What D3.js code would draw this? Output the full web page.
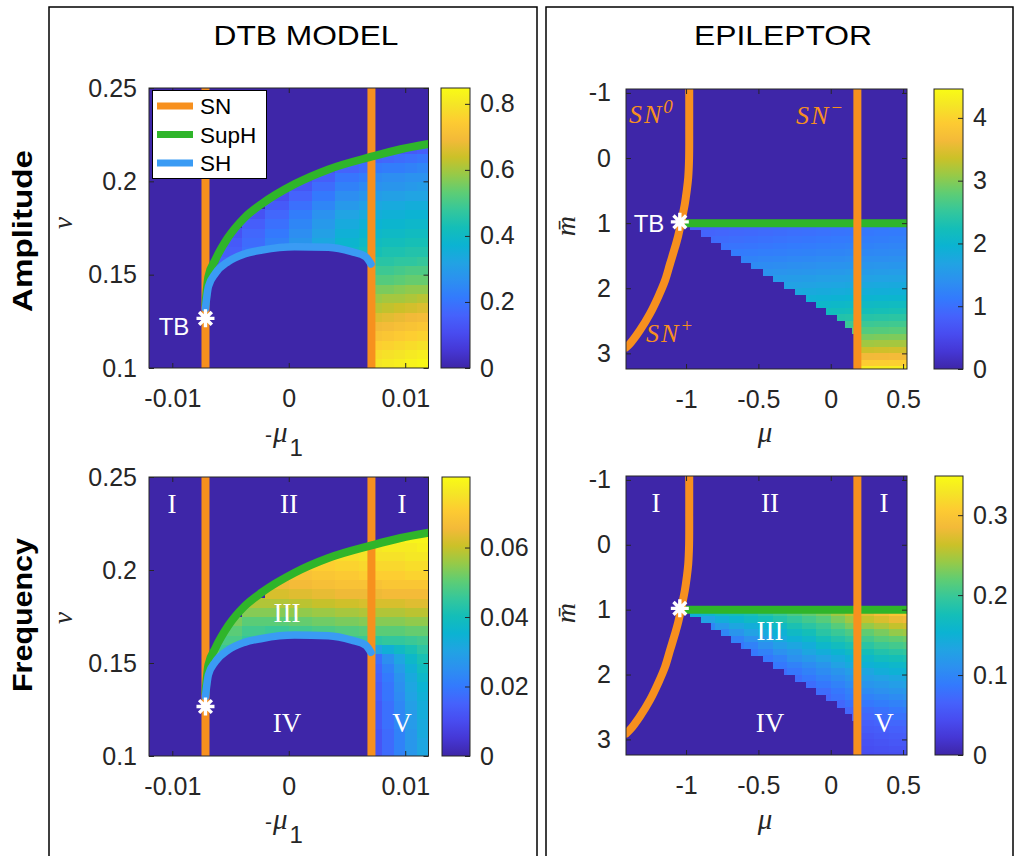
<!DOCTYPE html>
<html><head><meta charset="utf-8">
<script src="https://cdn.jsdelivr.net/npm/d3@7"></script>
<style>body{margin:0;background:#fff}svg{display:block}</style>
</head><body>
<svg id="fig" width="1019" height="856"></svg>
<script>
// ---------------- DATA ----------------
// DTB model axes
const dtbXDomain = [-0.012, 0.012];
const dtbYDomain = [0.1, 0.25];
const dtbXTicks = [-0.01, 0, 0.01];
const dtbXTickLabels = ["-0.01", "0", "0.01"];
const dtbYTicks = [0.1, 0.15, 0.2, 0.25];
const dtbYTickLabels = ["0.1", "0.15", "0.2", "0.25"];
// bifurcation curves (DTB)
const dtbSN = [-0.00715, 0.0071];
const dtbSupH = [[-0.00715,0.134],[-0.0069,0.149],[-0.0063,0.158],[-0.0052,0.170],[-0.0038,0.1805],[-0.0023,0.188],[0.0005,0.1985],[0.0034,0.2064],[0.0071,0.2132],[0.0096,0.2172],[0.0120,0.2200]];
const dtbSH = [[-0.00715,0.132],[-0.0069,0.1436],[-0.0063,0.1507],[-0.0052,0.1570],[-0.0038,0.1611],[-0.0023,0.1632],[0.0005,0.1650],[0.0034,0.1647],[0.0054,0.1623],[0.0066,0.1596],[0.00706,0.1557]];
const dtbTB = [-0.00715, 0.1266];
// DTB heat-map grid (column edges in -mu1, row edges in nu)
const dtbColEdges = [-0.008,-0.006,-0.004,-0.002,0,0.002,0.004,0.006,0.007,0.008,0.009,0.010,0.011,0.012];
const dtbRowEdges = [0.100,0.105,0.110,0.115,0.120,0.125,0.130,0.135,0.140,0.145,0.150,0.155,0.160,0.165,0.170,0.175,0.180,0.185,0.190,0.195,0.200,0.205,0.210,0.215,0.220,0.225];
const dtbAmplitude = [
[0,0,0,0,0,0,0,0,0.80,0.81,0.82,0.83,0.84],
[0,0,0,0,0,0,0,0,0.78,0.79,0.80,0.81,0.82],
[0,0,0,0,0,0,0,0,0.75,0.76,0.77,0.78,0.79],
[0,0,0,0,0,0,0,0,0.72,0.73,0.74,0.75,0.76],
[0,0,0,0,0,0,0,0,0.69,0.70,0.71,0.72,0.73],
[0,0,0,0,0,0,0,0,0.66,0.67,0.68,0.69,0.70],
[0,0,0,0,0,0,0,0,0.62,0.63,0.64,0.65,0.66],
[0.13,0,0,0,0,0,0,0,0.59,0.60,0.60,0.61,0.62],
[0.14,0,0,0,0,0,0,0,0.56,0.56,0.57,0.58,0.58],
[0.15,0.17,0,0,0,0,0,0,0.52,0.52,0.53,0.54,0.54],
[0.14,0.17,0,0,0,0,0,0,0.49,0.49,0.50,0.51,0.51],
[0.13,0.16,0.20,0,0,0,0.38,0.44,0.46,0.46,0.47,0.47,0.48],
[0,0.15,0.19,0.24,0.30,0.35,0.40,0.42,0.43,0.44,0.44,0.45,0.45],
[0,0.14,0.18,0.23,0.28,0.33,0.38,0.40,0.41,0.42,0.42,0.43,0.43],
[0,0.12,0.17,0.21,0.26,0.31,0.36,0.38,0.39,0.40,0.40,0.41,0.41],
[0,0,0.15,0.19,0.24,0.29,0.34,0.36,0.37,0.38,0.38,0.39,0.39],
[0,0,0.12,0.17,0.22,0.27,0.32,0.34,0.35,0.36,0.36,0.37,0.37],
[0,0,0,0.14,0.19,0.24,0.29,0.31,0.33,0.34,0.34,0.35,0.35],
[0,0,0,0.11,0.16,0.21,0.26,0.28,0.30,0.31,0.31,0.32,0.32],
[0,0,0,0.10,0.13,0.18,0.23,0.25,0.27,0.28,0.28,0.29,0.30],
[0,0,0,0,0.11,0.15,0.20,0.22,0.25,0.26,0.26,0.27,0.27],
[0,0,0,0,0,0.12,0.16,0.18,0.21,0.22,0.22,0.23,0.24],
[0,0,0,0,0,0,0.13,0.14,0.16,0.17,0.18,0.19,0.20],
[0,0,0,0,0,0,0,0,0,0.12,0.13,0.14,0.15],
[0,0,0,0,0,0,0,0,0,0,0,0,0]];
const dtbFrequency = [
[0,0,0,0,0,0,0,0,0.012,0.017,0.022,0.027,0.031],
[0,0,0,0,0,0,0,0,0.012,0.017,0.022,0.027,0.031],
[0,0,0,0,0,0,0,0,0.012,0.017,0.022,0.027,0.032],
[0,0,0,0,0,0,0,0,0.013,0.018,0.023,0.028,0.032],
[0,0,0,0,0,0,0,0,0.013,0.018,0.023,0.028,0.033],
[0,0,0,0,0,0,0,0,0.013,0.018,0.023,0.029,0.033],
[0,0,0,0,0,0,0,0,0.014,0.019,0.024,0.030,0.034],
[0.046,0,0,0,0,0,0,0,0.014,0.019,0.025,0.031,0.035],
[0.047,0,0,0,0,0,0,0,0.015,0.020,0.026,0.032,0.037],
[0.048,0.044,0,0,0,0,0,0,0.016,0.022,0.028,0.034,0.039],
[0.050,0.045,0,0,0,0,0,0,0.018,0.025,0.031,0.037,0.041],
[0.052,0.046,0.043,0,0,0,0.044,0.044,0.030,0.034,0.038,0.041,0.044],
[0,0.048,0.045,0.044,0.044,0.045,0.046,0.046,0.044,0.045,0.045,0.046,0.047],
[0,0.050,0.047,0.046,0.047,0.048,0.049,0.050,0.050,0.050,0.050,0.051,0.051],
[0,0.053,0.050,0.050,0.051,0.052,0.053,0.054,0.054,0.054,0.054,0.055,0.055],
[0,0,0.054,0.054,0.055,0.056,0.057,0.058,0.058,0.058,0.058,0.059,0.059],
[0,0,0.058,0.058,0.059,0.060,0.061,0.062,0.062,0.062,0.062,0.063,0.063],
[0,0,0,0.062,0.063,0.064,0.065,0.065,0.065,0.066,0.066,0.066,0.066],
[0,0,0,0.065,0.066,0.067,0.068,0.068,0.068,0.069,0.069,0.069,0.069],
[0,0,0,0.067,0.068,0.069,0.070,0.071,0.071,0.071,0.071,0.072,0.072],
[0,0,0,0,0.070,0.071,0.072,0.073,0.073,0.073,0.073,0.074,0.074],
[0,0,0,0,0,0.073,0.074,0.075,0.075,0.075,0.075,0.076,0.076],
[0,0,0,0,0,0,0.075,0.076,0.076,0.077,0.077,0.077,0.078],
[0,0,0,0,0,0,0,0,0,0.078,0.078,0.079,0.079],
[0,0,0,0,0,0,0,0,0,0,0,0,0]];

// Epileptor axes
const epiXDomain = [-1.415, 0.527];
const epiYDomain = [-1.06, 3.24];
const epiXTicks = [-1, -0.5, 0, 0.5];
const epiXTickLabels = ["-1", "-0.5", "0", "0.5"];
const epiYTicks = [-1, 0, 1, 2, 3];
const epiYTickLabels = ["-1", "0", "1", "2", "3"];
// bifurcation curves (Epileptor)
const epiSN0 = [[-0.978,-1.06],[-0.978,-0.5],[-0.979,0.0],[-0.985,0.3],[-0.995,0.5],[-1.008,0.7],[-1.021,0.85],[-1.035,1.0],[-1.055,1.2],[-1.076,1.37],[-1.11,1.62],[-1.145,1.88],[-1.19,2.12],[-1.249,2.39],[-1.32,2.65],[-1.387,2.85],[-1.415,2.91]];
const epiSNminus = 0.184;
const epiSupH = [[-1.035,1.0],[0.527,1.0]];
const epiTB = [-1.043, 0.98];
// Epileptor heat-map grid
const epiColEdges = [-1.0,-0.9,-0.8,-0.7,-0.6,-0.5,-0.4,-0.3,-0.2,-0.1,0.0,0.1,0.2,0.3,0.4,0.5,0.53];
const epiRowEdges = [1.0,1.1,1.2,1.3,1.4,1.5,1.6,1.7,1.8,1.9,2.0,2.1,2.2,2.3,2.4,2.5,2.6,2.7,2.8,2.9,3.0,3.1,3.2,3.25];
const epiBoundary = [-0.97,-0.90,-0.83,-0.76,-0.69,-0.62,-0.55,-0.47,-0.40,-0.32,-0.25,-0.17,-0.10,-0.03,0.04,0.10,0.15,0.18,0.18,0.18,0.18,0.18,0.18];
const epiAmplitude = [
[0.80,0.82,0.84,0.86,0.88,0.90,0.92,0.94,0.96,0.98,1.00,1.02,1.05,1.07,1.09,1.10],
[0,0.86,0.88,0.90,0.92,0.94,0.96,0.98,1.00,1.02,1.04,1.06,1.09,1.11,1.13,1.15],
[0,0.93,0.95,0.97,0.99,1.01,1.03,1.05,1.07,1.09,1.11,1.13,1.15,1.17,1.19,1.20],
[0,0,1.02,1.04,1.06,1.08,1.10,1.12,1.14,1.16,1.18,1.20,1.22,1.24,1.25,1.26],
[0,0,0,1.12,1.14,1.16,1.18,1.20,1.22,1.24,1.26,1.28,1.30,1.31,1.32,1.33],
[0,0,0,1.21,1.23,1.25,1.27,1.29,1.31,1.33,1.35,1.37,1.38,1.39,1.40,1.41],
[0,0,0,0,1.32,1.34,1.36,1.38,1.40,1.42,1.44,1.46,1.47,1.48,1.49,1.50],
[0,0,0,0,0,1.43,1.45,1.47,1.49,1.51,1.53,1.55,1.56,1.57,1.58,1.59],
[0,0,0,0,0,0,1.55,1.57,1.59,1.61,1.63,1.65,1.66,1.67,1.68,1.69],
[0,0,0,0,0,0,1.64,1.66,1.68,1.70,1.72,1.74,1.76,1.77,1.78,1.79],
[0,0,0,0,0,0,0,1.76,1.78,1.80,1.82,1.84,1.86,1.87,1.88,1.89],
[0,0,0,0,0,0,0,0,1.90,1.92,1.94,1.96,1.98,1.99,2.00,2.01],
[0,0,0,0,0,0,0,0,0,2.05,2.07,2.09,2.11,2.13,2.14,2.15],
[0,0,0,0,0,0,0,0,0,2.18,2.20,2.22,2.24,2.26,2.28,2.30],
[0,0,0,0,0,0,0,0,0,0,2.36,2.38,2.40,2.42,2.44,2.45],
[0,0,0,0,0,0,0,0,0,0,0,2.54,2.56,2.58,2.60,2.61],
[0,0,0,0,0,0,0,0,0,0,0,2.70,2.72,2.74,2.76,2.77],
[0,0,0,0,0,0,0,0,0,0,0,2.92,2.93,2.95,2.96,2.97],
[0,0,0,0,0,0,0,0,0,0,0,3.12,3.13,3.15,3.16,3.17],
[0,0,0,0,0,0,0,0,0,0,0,3.36,3.37,3.39,3.40,3.41],
[0,0,0,0,0,0,0,0,0,0,0,3.62,3.63,3.65,3.66,3.67],
[0,0,0,0,0,0,0,0,0,0,0,3.92,3.93,3.95,3.96,3.97],
[0,0,0,0,0,0,0,0,0,0,0,4.26,4.28,4.30,4.31,4.32]];
const epiFrequency = [
[0.150,0.160,0.170,0.175,0.180,0.190,0.200,0.210,0.220,0.230,0.245,0.260,0.275,0.290,0.300,0.305],
[0,0.130,0.145,0.155,0.165,0.175,0.185,0.195,0.205,0.215,0.230,0.245,0.260,0.270,0.280,0.285],
[0,0.100,0.120,0.135,0.145,0.155,0.165,0.180,0.190,0.200,0.215,0.230,0.240,0.250,0.260,0.265],
[0,0,0.100,0.115,0.130,0.140,0.150,0.165,0.175,0.190,0.200,0.210,0.220,0.230,0.240,0.245],
[0,0,0,0.095,0.110,0.125,0.140,0.150,0.160,0.175,0.185,0.195,0.205,0.215,0.220,0.225],
[0,0,0,0.085,0.095,0.110,0.125,0.135,0.145,0.160,0.170,0.180,0.190,0.200,0.205,0.210],
[0,0,0,0,0.085,0.095,0.110,0.120,0.135,0.145,0.155,0.165,0.175,0.185,0.190,0.195],
[0,0,0,0,0,0.085,0.095,0.110,0.120,0.130,0.140,0.150,0.160,0.170,0.175,0.180],
[0,0,0,0,0,0,0.085,0.095,0.105,0.115,0.130,0.140,0.150,0.155,0.160,0.165],
[0,0,0,0,0,0,0.075,0.085,0.095,0.105,0.115,0.125,0.135,0.145,0.150,0.155],
[0,0,0,0,0,0,0,0.075,0.085,0.095,0.105,0.115,0.125,0.130,0.135,0.140],
[0,0,0,0,0,0,0,0,0.075,0.085,0.095,0.105,0.115,0.120,0.125,0.130],
[0,0,0,0,0,0,0,0,0,0.075,0.085,0.095,0.105,0.110,0.115,0.120],
[0,0,0,0,0,0,0,0,0,0.070,0.080,0.090,0.095,0.100,0.105,0.110],
[0,0,0,0,0,0,0,0,0,0,0.070,0.080,0.085,0.090,0.095,0.100],
[0,0,0,0,0,0,0,0,0,0,0,0.070,0.075,0.080,0.085,0.090],
[0,0,0,0,0,0,0,0,0,0,0,0.065,0.070,0.075,0.080,0.080],
[0,0,0,0,0,0,0,0,0,0,0,0.060,0.062,0.066,0.070,0.072],
[0,0,0,0,0,0,0,0,0,0,0,0.055,0.058,0.060,0.063,0.065],
[0,0,0,0,0,0,0,0,0,0,0,0.050,0.053,0.056,0.058,0.060],
[0,0,0,0,0,0,0,0,0,0,0,0.046,0.049,0.052,0.054,0.055],
[0,0,0,0,0,0,0,0,0,0,0,0.043,0.046,0.048,0.050,0.051],
[0,0,0,0,0,0,0,0,0,0,0,0.040,0.043,0.045,0.047,0.048]];

// colour bars
const dtbAmpCbarMax = 0.848, dtbAmpCbarTicks = [0,0.2,0.4,0.6,0.8], dtbAmpCbarLabels = ["0","0.2","0.4","0.6","0.8"];
const dtbFreqCbarMax = 0.0803, dtbFreqCbarTicks = [0,0.02,0.04,0.06], dtbFreqCbarLabels = ["0","0.02","0.04","0.06"];
const epiAmpCbarMax = 4.46, epiAmpCbarTicks = [0,1,2,3,4], epiAmpCbarLabels = ["0","1","2","3","4"];
const epiFreqCbarMax = 0.349, epiFreqCbarTicks = [0,0.1,0.2,0.3], epiFreqCbarLabels = ["0","0.1","0.2","0.3"];

const legendItems = ["SN", "SupH", "SH"];
const regionLabels = ["I", "II", "I", "III", "IV", "V"];

// ---------------- STYLE / COLORMAP ----------------
const parulaStops = [
[0/255,0.2422,0.1504,0.6603],[16/255,0.2704,0.2138,0.8346],[32/255,0.2813,0.2985,0.9397],[48/255,0.2710,0.3860,0.9898],
[64/255,0.2006,0.4803,0.9906],[80/255,0.1716,0.5655,0.9393],[96/255,0.1288,0.6408,0.8910],[112/255,0.0433,0.7039,0.8242],
[128/255,0.0770,0.7468,0.7224],[144/255,0.2061,0.7808,0.6065],[160/255,0.3671,0.8021,0.4563],[176/255,0.5886,0.7913,0.2833],
[192/255,0.7945,0.7554,0.1570],[208/255,0.9523,0.7284,0.2237],[224/255,0.9938,0.7974,0.1974],[240/255,0.9601,0.8963,0.1507],
[255/255,0.9769,0.9839,0.0805]];
const ORANGE = "#F7901E", GREEN = "#2FB52A", BLUE = "#3A9BF4";
const sans = "'Liberation Sans', Arial, Helvetica, sans-serif";
const serif = "'Liberation Serif', 'Times New Roman', serif";
const AX = "#262626";

const svg = d3.select("#fig");
const defs = svg.append("defs");
const pRgb = s => d3.rgb(s[1]*255, s[2]*255, s[3]*255);
function makeColor(max){
  return d3.scaleLinear().domain(parulaStops.map(s => s[0]*max)).range(parulaStops.map(pRgb)).interpolate(d3.interpolateRgb).clamp(true);
}
const grad = defs.append("linearGradient").attr("id","parulaGrad").attr("x1",0).attr("y1",1).attr("x2",0).attr("y2",0);
parulaStops.forEach(s => grad.append("stop").attr("offset", s[0]).attr("stop-color", pRgb(s)));

// frames
svg.append("rect").attr("x",49).attr("y",7).attr("width",488).attr("height",900).attr("fill","none").attr("stroke","#000").attr("stroke-width",1.5);
svg.append("rect").attr("x",546).attr("y",7).attr("width",467).attr("height",900).attr("fill","none").attr("stroke","#000").attr("stroke-width",1.5);

let uid = 0;
function styleAxis(s, fs){
  s.select(".domain").remove();
  s.selectAll("line").attr("stroke", AX).attr("stroke-width", 1);
  s.selectAll("text").attr("font-size", fs).attr("font-family", sans).attr("fill", AX);
  s.attr("font-size", null).attr("font-family", null);
}
function starPath(r){
  const a = r*0.7071;
  return `M0,${-r}L0,${r}M${-r},0L${r},0M${-a},${-a}L${a},${a}M${-a},${a}L${a},${-a}`;
}

function drawPanel(L, P){
  const x = d3.scaleLinear().domain(P.xDomain).range([L.x0, L.x1]);
  const y = d3.scaleLinear().domain(P.yDomain).range(P.yReversed ? [L.y0, L.y1] : [L.y1, L.y0]);
  const color = makeColor(P.cmax);
  const id = "ax" + (uid++);
  defs.append("clipPath").attr("id", id).append("rect").attr("x",L.x0).attr("y",L.y0).attr("width",L.x1-L.x0).attr("height",L.y1-L.y0);
  const plot = svg.append("g").attr("clip-path", `url(#${id})`);
  plot.append("rect").attr("x",L.x0).attr("y",L.y0).attr("width",L.x1-L.x0).attr("height",L.y1-L.y0).attr("fill", color(0));
  const line = d3.line().x(d => x(d[0])).y(d => y(d[1]));

  if (P.model === "dtb") {
    const rid = "rg" + (uid++);
    const poly = [...dtbSupH, [dtbSupH[dtbSupH.length-1][0], dtbYDomain[0]], [dtbSN[1], dtbYDomain[0]], ...dtbSH.slice().reverse()];
    defs.append("clipPath").attr("id", rid).append("path").attr("d", line(poly) + "Z");
    const cells = [];
    P.field.forEach((row,i) => row.forEach((v,j) => { if (v > 0) cells.push({c0:dtbColEdges[j], c1:dtbColEdges[j+1], r0:dtbRowEdges[i], r1:dtbRowEdges[i+1], v}); }));
    plot.append("g").attr("clip-path", `url(#${rid})`).selectAll("rect").data(cells).join("rect")
      .attr("x", d => x(d.c0)).attr("width", d => x(d.c1) - x(d.c0) + 0.6)
      .attr("y", d => y(d.r1)).attr("height", d => y(d.r0) - y(d.r1) + 0.6)
      .attr("fill", d => color(d.v)).attr("shape-rendering","crispEdges");
    dtbSN.forEach(s => plot.append("path").attr("d", line([[s, dtbYDomain[0]], [s, dtbYDomain[1]]])).attr("stroke", ORANGE).attr("stroke-width", 8).attr("fill","none"));
    plot.append("path").attr("d", line.curve(d3.curveMonotoneX)(dtbSupH)).attr("stroke", GREEN).attr("stroke-width", 8).attr("fill","none").attr("stroke-linecap","round");
    plot.append("path").attr("d", line.curve(d3.curveMonotoneX)(dtbSH)).attr("stroke", BLUE).attr("stroke-width", 7.5).attr("fill","none").attr("stroke-linecap","round");
    line.curve(d3.curveLinear);
    plot.append("path").attr("transform", `translate(${x(dtbTB[0])},${y(dtbTB[1])})`).attr("d", starPath(9)).attr("stroke","#fff").attr("stroke-width",3.4).attr("fill","none");
  } else {
    const cells = [];
    P.field.forEach((row,i) => row.forEach((v,j) => {
      if (v <= 0) return;
      const c0 = Math.max(epiColEdges[j], epiBoundary[i]), c1 = epiColEdges[j+1];
      if (c1 <= c0) return;
      cells.push({c0, c1, r0:epiRowEdges[i], r1:epiRowEdges[i+1], v});
    }));
    plot.append("g").selectAll("rect").data(cells).join("rect")
      .attr("x", d => x(d.c0)).attr("width", d => x(d.c1) - x(d.c0) + 0.6)
      .attr("y", d => y(d.r0)).attr("height", d => y(d.r1) - y(d.r0) + 0.6)
      .attr("fill", d => color(d.v)).attr("shape-rendering","crispEdges");
    plot.append("path").attr("d", line(epiSupH)).attr("stroke", GREEN).attr("stroke-width", 8).attr("fill","none");
    plot.append("path").attr("d", line.curve(d3.curveCatmullRom)(epiSN0)).attr("stroke", ORANGE).attr("stroke-width", 8).attr("fill","none").attr("stroke-linecap","round");
    line.curve(d3.curveLinear);
    plot.append("path").attr("d", line([[epiSNminus, epiYDomain[0]], [epiSNminus, epiYDomain[1]]])).attr("stroke", ORANGE).attr("stroke-width", 8).attr("fill","none");
    plot.append("path").attr("transform", `translate(${x(epiTB[0])},${y(epiTB[1])})`).attr("d", starPath(9)).attr("stroke","#fff").attr("stroke-width",3.4).attr("fill","none");
  }

  // axes (ticks inside, mirrored)
  const fs = 25;
  svg.append("g").attr("transform", `translate(0,${L.y1})`)
    .call(d3.axisBottom(x).tickValues(P.xTicks).tickFormat((d,i) => P.xLabels[i]).tickSize(-5).tickPadding(21))
    .call(s => styleAxis(s, fs));
  svg.append("g").attr("transform", `translate(0,${L.y0})`)
    .call(d3.axisTop(x).tickValues(P.xTicks).tickFormat(() => "").tickSize(-5)).call(s => styleAxis(s, fs));
  svg.append("g").attr("transform", `translate(${L.x0},0)`)
    .call(d3.axisLeft(y).tickValues(P.yTicks).tickFormat((d,i) => P.yLabels[i]).tickSize(-5).tickPadding(P.yPad))
    .call(s => styleAxis(s, fs));
  svg.append("g").attr("transform", `translate(${L.x1},0)`)
    .call(d3.axisRight(y).tickValues(P.yTicks).tickFormat(() => "").tickSize(-5)).call(s => styleAxis(s, fs));
  svg.append("rect").attr("x",L.x0).attr("y",L.y0).attr("width",L.x1-L.x0).attr("height",L.y1-L.y0).attr("fill","none").attr("stroke",AX).attr("stroke-width",1);

  // colour bar
  const cy = d3.scaleLinear().domain([0, P.cmax]).range([L.y1, L.y0]);
  svg.append("rect").attr("x",L.cb[0]).attr("y",L.y0).attr("width",L.cb[1]-L.cb[0]).attr("height",L.y1-L.y0).attr("fill","url(#parulaGrad)").attr("stroke",AX).attr("stroke-width",1);
  svg.append("g").attr("transform", `translate(${L.cb[1]},0)`)
    .call(d3.axisRight(cy).tickValues(P.cTicks).tickFormat((d,i) => P.cLabels[i]).tickSize(-5).tickPadding(10))
    .call(s => styleAxis(s, fs));
  return {x, y};
}

const dtbBase = {model:"dtb", xDomain:dtbXDomain, yDomain:dtbYDomain, xTicks:dtbXTicks, xLabels:dtbXTickLabels, yTicks:dtbYTicks, yLabels:dtbYTickLabels, yPad:12};
const epiBase = {model:"epi", xDomain:epiXDomain, yDomain:epiYDomain, yReversed:true, xTicks:epiXTicks, xLabels:epiXTickLabels, yTicks:epiYTicks, yLabels:epiYTickLabels, yPad:15};

drawPanel({x0:149,x1:428.5,y0:88,y1:368,cb:[441,470]}, {...dtbBase, field:dtbAmplitude, cmax:dtbAmpCbarMax, cTicks:dtbAmpCbarTicks, cLabels:dtbAmpCbarLabels});
drawPanel({x0:149,x1:428.5,y0:477,y1:756,cb:[442,470]}, {...dtbBase, field:dtbFrequency, cmax:dtbFreqCbarMax, cTicks:dtbFreqCbarTicks, cLabels:dtbFreqCbarLabels});
drawPanel({x0:626,x1:907,y0:89,y1:369,cb:[934,963]}, {...epiBase, field:epiAmplitude, cmax:epiAmpCbarMax, cTicks:epiAmpCbarTicks, cLabels:epiAmpCbarLabels});
drawPanel({x0:626,x1:907,y0:476,y1:755,cb:[935,963]}, {...epiBase, field:epiFrequency, cmax:epiFreqCbarMax, cTicks:epiFreqCbarTicks, cLabels:epiFreqCbarLabels});

// ---------------- TEXT ----------------
function txt(x, y, s, o){
  const t = svg.append("text").attr("x",x).attr("y",y).text(s)
    .attr("font-family", o.family || sans).attr("font-size", o.size).attr("fill", o.fill || "#000")
    .attr("text-anchor", o.anchor || "middle");
  if (o.weight) t.attr("font-weight", o.weight);
  if (o.style) t.attr("font-style", o.style);
  if (o.len) t.attr("textLength", o.len).attr("lengthAdjust","spacingAndGlyphs");
  if (o.rotate) t.attr("transform", `rotate(${o.rotate},${x},${y})`);
  return t;
}
txt(306, 45, "DTB MODEL", {size:28, len:185});
txt(783, 45, "EPILEPTOR", {size:28, len:178});
txt(32, 231, "Amplitude", {size:28, weight:"bold", rotate:-90, len:162});
txt(32, 615, "Frequency", {size:28, weight:"bold", rotate:-90, len:154});

// y labels
txt(72, 223, "ν", {size:27, family:serif, style:"italic", rotate:-90, fill:AX});
txt(72, 618, "ν", {size:27, family:serif, style:"italic", rotate:-90, fill:AX});
txt(575, 226, "m̄", {size:28, family:serif, style:"italic", rotate:-90, fill:AX});
txt(575, 613, "m̄", {size:28, family:serif, style:"italic", rotate:-90, fill:AX});

// x labels
function muOneLabel(base){
  const t = svg.append("text").attr("x", 265).attr("y", base).attr("fill", AX);
  t.append("tspan").attr("font-family", sans).attr("font-size", 21).text("-");
  t.append("tspan").attr("font-family", serif).attr("font-style","italic").attr("font-size", 29).attr("dx", 1).text("μ");
  t.append("tspan").attr("font-family", sans).attr("font-size", 24).attr("dx", 2).attr("dy", 14).text("1");
}
muOneLabel(442); muOneLabel(829);
txt(765, 442, "μ", {size:29, family:serif, style:"italic", fill:AX});
txt(765, 829, "μ", {size:29, family:serif, style:"italic", fill:AX});

// legend
const lg = svg.append("g");
lg.append("rect").attr("x",152.5).attr("y",90.5).attr("width",114).attr("height",88).attr("fill","#fff").attr("stroke","#000").attr("stroke-width",1);
const lgColors = [ORANGE, GREEN, BLUE];
legendItems.forEach((name, i) => {
  const yy = 106 + i*28.5;
  lg.append("line").attr("x1",157).attr("x2",193).attr("y1",yy).attr("y2",yy).attr("stroke",lgColors[i]).attr("stroke-width",7);
  lg.append("text").attr("x",200).attr("y",yy+8).text(name).attr("font-family",sans).attr("font-size",22.5).attr("fill","#000");
});

// TB labels
txt(174, 335, "TB", {size:24, fill:"#fff"});
txt(649, 232, "TB", {size:24, fill:"#fff"});

// SN labels (Epileptor)
function snLabel(x, y, sup){
  const t = svg.append("text").attr("x", x).attr("y", y).attr("fill", ORANGE).attr("font-family", serif).attr("font-style","italic").attr("font-size", 26).attr("letter-spacing", 2);
  t.append("tspan").text("SN");
  t.append("tspan").attr("font-size", 19).attr("dy", -10).text(sup);
}
snLabel(629, 123, "0");
snLabel(796, 124, "\u2212");
snLabel(646, 342, "+");

// region labels
const regDTB = [[172,513],[289,513],[402,513],[287,622],[287,732],[402,732]];
const regEPI = [[656,512],[770,512],[884,512],[770,640],[770,732],[884,732]];
regionLabels.forEach((s,i) => {
  txt(regDTB[i][0], regDTB[i][1], s, {size:27, family:serif, fill:"#fff"});
  txt(regEPI[i][0], regEPI[i][1], s, {size:27, family:serif, fill:"#fff"});
});
</script>
</body></html>
